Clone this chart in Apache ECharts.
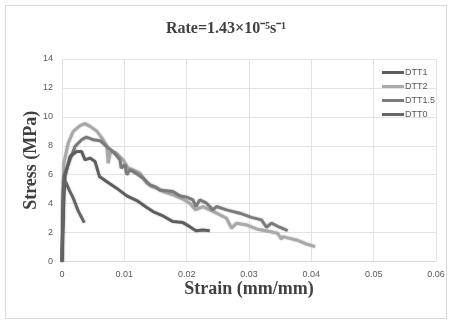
<!DOCTYPE html>
<html><head><meta charset="utf-8">
<script src="https://cdn.jsdelivr.net/npm/echarts@6/dist/echarts.min.js"></script>
<style>html,body{margin:0;padding:0;background:#fff}#c{width:452px;height:320px}</style>
</head><body><div id="c"></div>
<script>
var seriesNames = ['DTT1', 'DTT2', 'DTT1.5', 'DTT0'];
var xTicks = [0, 0.01, 0.02, 0.03, 0.04, 0.05, 0.06];
var yTicks = [0, 2, 4, 6, 8, 10, 12, 14];

var dtt1Strain = [0, 0.0003, 0.0005, 0.00128, 0.00235, 0.00315, 0.0037, 0.0045, 0.0053, 0.006, 0.00715, 0.00875, 0.0104, 0.012, 0.01355, 0.0146, 0.0162, 0.0178, 0.0194, 0.0205, 0.0215, 0.0226, 0.0237];
var dtt1Stress = [0, 4.5, 5.9, 7.26, 7.6, 7.6, 7.03, 7.15, 6.92, 5.88, 5.53, 5.07, 4.54, 4.21, 3.75, 3.45, 3.15, 2.76, 2.69, 2.41, 2.13, 2.18, 2.13];

var dtt2Strain = [0, 0.0002, 0.0003, 0.001, 0.0018, 0.0029, 0.0037, 0.0045, 0.0056, 0.0066, 0.0072, 0.0074, 0.0078, 0.0087, 0.0098, 0.0106, 0.0114, 0.0125, 0.0136, 0.0144, 0.0152, 0.0162, 0.0178, 0.0194, 0.0205, 0.0214, 0.0226, 0.0237, 0.0248, 0.0264, 0.0272, 0.028, 0.0296, 0.0312, 0.0333, 0.0346, 0.0352, 0.0354, 0.0376, 0.0392, 0.0406];
var dtt2Stress = [0, 5.5, 6.8, 8.19, 9.0, 9.39, 9.53, 9.34, 9.0, 8.42, 7.96, 6.8, 7.6, 7.5, 7.03, 6.46, 6.34, 6.11, 5.42, 5.18, 5.07, 4.84, 4.61, 4.31, 4.03, 3.57, 3.8, 3.57, 3.34, 2.99, 2.3, 2.65, 2.53, 2.25, 2.07, 1.95, 1.54, 1.72, 1.49, 1.21, 1.03];

var dtt15Strain = [0, 0.0002, 0.0003, 0.00128, 0.0021, 0.00315, 0.0039, 0.005, 0.0061, 0.00715, 0.0082, 0.0093, 0.0095, 0.0101, 0.0104, 0.0109, 0.012, 0.013, 0.0141, 0.0149, 0.0157, 0.0167, 0.0178, 0.0189, 0.02, 0.021, 0.0215, 0.0221, 0.0232, 0.0242, 0.0248, 0.0264, 0.0285, 0.0304, 0.032, 0.0328, 0.0336, 0.0349, 0.0362];
var dtt15Stress = [0, 4.8, 5.88, 7.03, 7.96, 8.42, 8.6, 8.42, 8.35, 7.96, 7.6, 7.03, 6.46, 6.69, 6.0, 6.34, 6.06, 5.76, 5.3, 5.18, 4.95, 4.9, 4.84, 4.54, 4.45, 4.26, 3.8, 4.26, 4.03, 3.57, 3.8, 3.57, 3.34, 3.05, 2.88, 2.37, 2.65, 2.37, 2.13];

var dtt0Strain = [0, 0.0002, 0.0004, 0.0007, 0.0012, 0.0018, 0.0026, 0.00357];
var dtt0Stress = [0, 4.6, 5.6, 5.4, 4.9, 4.38, 3.5, 2.69];

var colors = ['#5e5e5e', '#a9a9a9', '#7b7b7b', '#656565'];

function pairs(xs, ys) { return xs.map(function (x, i) { return [x, ys[i]]; }); }
var dataSets = [pairs(dtt1Strain, dtt1Stress), pairs(dtt2Strain, dtt2Stress), pairs(dtt15Strain, dtt15Stress), pairs(dtt0Strain, dtt0Stress)];
var z = [4, 2, 3, 5];

var chart = echarts.init(document.getElementById('c'), null, {renderer: 'canvas'});
chart.setOption({
  animation: false,
  backgroundColor: '#fff',
  title: {
    text: 'Rate=1.43×10⁻⁵s⁻¹', left: 'center', top: 16,
    textStyle: {fontFamily: 'Liberation Serif', fontWeight: 'bold', fontSize: 16, color: '#404040'}
  },
  graphic: [{type: 'rect', shape: {x: 5.5, y: 5.5, width: 441, height: 313}, style: {fill: 'none', stroke: '#d9d9d9', lineWidth: 1}, silent: true, z: -1}],
  legend: {
    orient: 'vertical', left: 377, top: 63, itemWidth: 22, itemHeight: 3, itemGap: 5, icon: 'rect',
    data: seriesNames,
    textStyle: {fontFamily: 'Liberation Sans', fontSize: 9, color: '#595959', padding: [0, 0, 0, -4]}
  },
  grid: {left: 62, right: 16, top: 59, bottom: 58.5},
  xAxis: {
    type: 'value', min: 0, max: 0.06, interval: 0.01,
    name: 'Strain (mm/mm)', nameLocation: 'middle', nameGap: 19, nameMoveOverlap: false,
    nameTextStyle: {fontFamily: 'Liberation Serif', fontWeight: 'bold', fontSize: 18, color: '#404040'},
    axisLine: {show: true, lineStyle: {color: '#d9d9d9'}},
    axisTick: {show: false},
    axisLabel: {fontFamily: 'Liberation Sans', fontSize: 9, color: '#595959', margin: 9,
      formatter: function (v) { return xTicks.indexOf(Math.round(v * 100) / 100) >= 0 ? String(Math.round(v * 100) / 100) : ''; }},
    splitLine: {show: true, lineStyle: {color: '#e3e3e3'}}
  },
  yAxis: {
    type: 'value', min: 0, max: 14, interval: 2,
    name: 'Stress (MPa)', nameLocation: 'middle', nameGap: 22, nameMoveOverlap: false,
    nameTextStyle: {fontFamily: 'Liberation Serif', fontWeight: 'bold', fontSize: 18, color: '#404040'},
    axisLine: {show: false}, axisTick: {show: false},
    axisLabel: {fontFamily: 'Liberation Sans', fontSize: 9, color: '#595959', margin: 9,
      formatter: function (v) { return yTicks.indexOf(v) >= 0 ? String(v) : ''; }},
    splitLine: {show: true, lineStyle: {color: '#e3e3e3'}}
  },
  series: seriesNames.map(function (n, i) {
    return {
      name: n, type: 'line', data: dataSets[i], showSymbol: false, symbol: 'none', z: z[i],
      lineStyle: {width: 3, color: colors[i], shadowColor: 'rgba(0,0,0,0.25)', shadowBlur: 2},
      itemStyle: {color: colors[i]}
    };
  })
});
</script></body></html>
